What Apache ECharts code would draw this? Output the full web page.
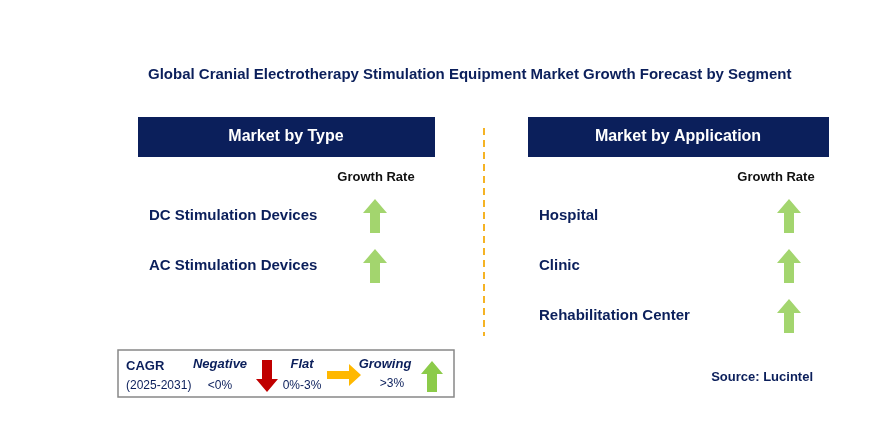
<!DOCTYPE html>
<html><head><meta charset="utf-8">
<script src="https://cdn.jsdelivr.net/npm/echarts@6/dist/echarts.min.js"></script>
<style>html,body{margin:0;background:#fff}#c{width:893px;height:425px}</style>
</head><body><div id="c"></div>
<script>
var title = "Global Cranial Electrotherapy Stimulation Equipment Market Growth Forecast by Segment";
var typeSegments = ["DC Stimulation Devices", "AC Stimulation Devices"];
var typeGrowth = [1, 1];
var appSegments = ["Hospital", "Clinic", "Rehabilitation Center"];
var appGrowth = [1, 1, 1];

var navy = "#0B1F5B";
var font = "Liberation Sans";
var upArrow = "path://M12,0 L24,14 L17,14 L17,34 L7,34 L7,14 L0,14 Z";

function yAx(idx, cats) {
  return {gridIndex: idx, type: "category", inverse: true, data: cats,
    axisLine: {show: false}, axisTick: {show: false}, splitLine: {show: false},
    axisLabel: {inside: true, align: "left", color: navy, fontFamily: font, fontWeight: "bold", fontSize: 15}};
}
function xAx(idx) {
  return {gridIndex: idx, type: "value", min: 0, max: 1, show: false};
}
function arrows(idx, vals) {
  return {type: "scatter", xAxisIndex: idx, yAxisIndex: idx, data: vals,
    symbol: upArrow, symbolSize: [24, 34], itemStyle: {color: "#8CCB4A"}, silent: true};
}
function poly(pts, ox, oy, color) {
  return {type: "polygon", x: ox, y: oy, shape: {points: pts}, style: {fill: color}};
}

var chart = echarts.init(document.getElementById("c"));
chart.setOption({
  animation: false,
  title: {text: title, left: 143, top: 62, textStyle: {color: navy, fontFamily: font, fontWeight: "bold", fontSize: 15}},
  grid: [
    {left: 141, width: 234, top: 191, height: 100},
    {left: 531, width: 258, top: 191, height: 150}
  ],
  xAxis: [xAx(0), xAx(1)],
  yAxis: [yAx(0, typeSegments), yAx(1, appSegments)],
  series: [arrows(0, typeGrowth), arrows(1, appGrowth)],
  graphic: [
    {type: "rect", shape: {x: 138, y: 117, width: 297, height: 40}, style: {fill: navy}},
    {type: "text", x: 286, y: 137, style: {text: "Market by Type", fill: "#fff", font: "bold 16px " + font, align: "center", verticalAlign: "middle"}},
    {type: "rect", shape: {x: 528, y: 117, width: 301, height: 40}, style: {fill: navy}},
    {type: "text", x: 678, y: 137, style: {text: "Market by Application", fill: "#fff", font: "bold 16px " + font, align: "center", verticalAlign: "middle"}},
    {type: "text", x: 376, y: 177, style: {text: "Growth Rate", fill: "#111", font: "bold 13px " + font, align: "center", verticalAlign: "middle"}},
    {type: "text", x: 776, y: 177, style: {text: "Growth Rate", fill: "#111", font: "bold 13px " + font, align: "center", verticalAlign: "middle"}},
    {type: "line", shape: {x1: 484, y1: 128, x2: 484, y2: 336}, style: {stroke: "#F5B324", lineWidth: 2, lineDash: [7, 5]}},
    {type: "text", x: 813, y: 377, style: {text: "Source: Lucintel", fill: navy, font: "bold 13px " + font, align: "right", verticalAlign: "middle"}},
    {type: "rect", shape: {x: 118, y: 350, width: 336, height: 47}, style: {fill: "#fff", stroke: "#888", lineWidth: 1.5}},
    {type: "text", x: 126, y: 366, style: {text: "CAGR", fill: navy, font: "bold 13px " + font, verticalAlign: "middle"}},
    {type: "text", x: 126, y: 386, style: {text: "(2025-2031)", fill: navy, font: "12px " + font, verticalAlign: "middle"}},
    {type: "text", x: 220, y: 364, style: {text: "Negative", fill: navy, font: "italic bold 13px " + font, align: "center", verticalAlign: "middle"}},
    {type: "text", x: 220, y: 386, style: {text: "<0%", fill: navy, font: "12px " + font, align: "center", verticalAlign: "middle"}},
    {type: "text", x: 302, y: 364, style: {text: "Flat", fill: navy, font: "italic bold 13px " + font, align: "center", verticalAlign: "middle"}},
    {type: "text", x: 302, y: 386, style: {text: "0%-3%", fill: navy, font: "12px " + font, align: "center", verticalAlign: "middle"}},
    {type: "text", x: 385, y: 364, style: {text: "Growing", fill: navy, font: "italic bold 13px " + font, align: "center", verticalAlign: "middle"}},
    {type: "text", x: 392, y: 384, style: {text: ">3%", fill: navy, font: "12px " + font, align: "center", verticalAlign: "middle"}},
    poly([[6,0],[16,0],[16,19],[22,19],[11,32],[0,19],[6,19]], 256, 360, "#C00000"),
    poly([[0,7],[22,7],[22,0],[34,11],[22,22],[22,15],[0,15]], 327, 364, "#FFB800"),
    poly([[11,0],[22,13],[16,13],[16,31],[6,31],[6,13],[0,13]], 421, 361, "#8CCB4A")
  ]
});
</script></body></html>
